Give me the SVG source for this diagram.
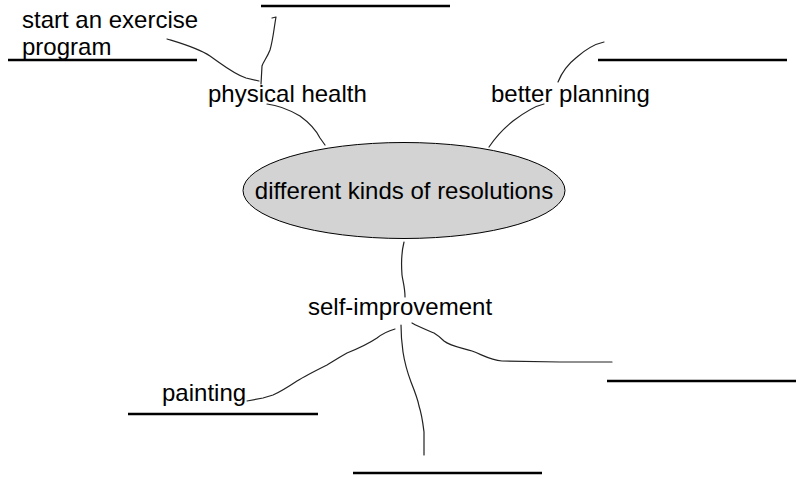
<svg xmlns="http://www.w3.org/2000/svg" width="800" height="479" viewBox="0 0 800 479">
<style>
text{font-family:"Liberation Sans",Arial,sans-serif;font-size:24px;fill:#000}
.blank{stroke:#000;stroke-width:2.5;fill:none}
.conn{stroke:#222;stroke-width:1.2;fill:none;stroke-linejoin:round;stroke-linecap:round}
</style>
<rect width="800" height="479" fill="#fff"/>
<g id="connectors">
<path class="conn" d="M167,39 C180,43 198,48 210,56 C222,64 232,73 246,78 L259,81"/>
<path class="conn" d="M272,18 L276,17 C274,28 273,40 270,50 C267,58 263,62 262,66 L261,84"/>
<path class="conn" d="M267,104 C276,105 288,109 300,116 C311,124 317,132 320,138 L325,145"/>
<path class="conn" d="M558,82 C562,72 568,64 577,57 C585,50 595,44 604,42"/>
<path class="conn" d="M544,104 C535,106 525,112 513,121 C503,129 495,138 489,147"/>
<path class="conn" d="M404,242 C402,250 401,262 402,275 C403,282 405,288 405,297"/>
<path class="conn" d="M395,329 C388,331 382,334 377,338 C368,344 357,349 347,353 C338,358 332,362 327,365 C315,371 305,376 297,381 C288,387 280,392 273,395 L263,398 L247,401"/>
<path class="conn" d="M401,325 C401,335 402,345 403,352 C405,365 408,374 411,382 C415,392 418,400 419,406 C422,415 423,424 424,432 L424,455"/>
<path class="conn" d="M412,323 C419,327 427,330 434,333 C439,336 441,338 444,341 C450,346 462,348 472,351 C483,355 490,360 502,361 L560,362 L612,362"/>
</g>
<g id="center">
<ellipse cx="404" cy="190.5" rx="161" ry="48" fill="#d3d3d3" stroke="#000" stroke-width="1"/>
<text x="404" y="199" text-anchor="middle">different kinds of resolutions</text>
</g>
<g id="physical-health"><text x="208" y="102">physical health</text></g>
<g id="start-exercise"><text x="22" y="28">start an exercise</text><text x="22" y="55">program</text><line class="blank" x1="8" y1="60" x2="197" y2="60"/></g>
<g id="blank-top"><line class="blank" x1="261" y1="6" x2="450" y2="6"/></g>
<g id="better-planning"><text x="491" y="102">better planning</text></g>
<g id="blank-top-right"><line class="blank" x1="598" y1="60" x2="787" y2="60"/></g>
<g id="self-improvement"><text x="308" y="315">self-improvement</text></g>
<g id="painting"><text x="162" y="401">painting</text><line class="blank" x1="128" y1="414" x2="318" y2="414"/></g>
<g id="blank-right"><line class="blank" x1="607" y1="381" x2="796" y2="381"/></g>
<g id="blank-bottom"><line class="blank" x1="353" y1="473" x2="542" y2="473"/></g>
</svg>
